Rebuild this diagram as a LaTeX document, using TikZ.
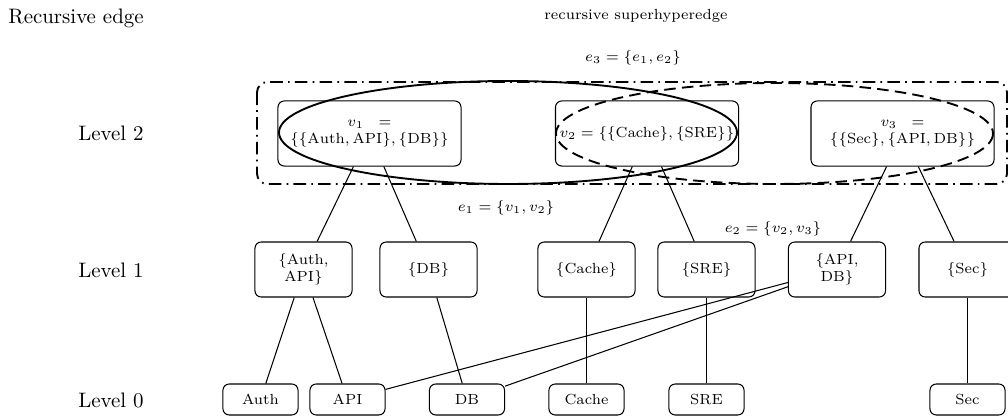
\documentclass[tikz,border=0pt]{standalone}
\usetikzlibrary{shapes.geometric}
\begin{document}
\begin{tikzpicture}[x=0.478pt,y=-0.478pt,
  box/.style={draw,rounded corners=3pt,line width=0.5pt,align=center,
    font=\scriptsize,inner sep=1pt},
  topbox/.style={box,minimum width=87.5pt,minimum height=31.1pt},
  midbox/.style={box,minimum width=46.4pt,minimum height=26.3pt},
  leafbox/.style={box,minimum width=35.9pt,minimum height=14.8pt},
  link/.style={line width=0.5pt},
  hull/.style={line width=0.9pt},
  hulldash/.style={line width=0.9pt,dash pattern=on 5.5pt off 3pt},
  outerhull/.style={line width=0.9pt,rounded corners=5pt,
    dash pattern=on 6pt off 2.5pt on 0.8pt off 2.5pt},
  lvl/.style={font=\normalsize},
  elabel/.style={font=\scriptsize}]
\useasboundingbox (0,0) rectangle (1008,416);

% titles and level labels
\node[anchor=west] (title) at (1,18) {Recursive edge};
\node[elabel] (rsh) at (636,16) {recursive superhyperedge};
\node[elabel] (e3lab) at (633,58) {$e_3=\{e_1,e_2\}$};
\node[lvl] (lv2) at (111,133.5) {Level 2};
\node[lvl] (lv1) at (111,270) {Level 1};
\node[lvl] (lv0) at (111,400) {Level 0};

% level 2
\node[topbox] (v1) at (369.5,133.5) {$v_1$\hspace{7pt}$=$\\$\{\{\mathrm{Auth},\mathrm{API}\},\{\mathrm{DB}\}\}$};
\node[topbox] (v2) at (647,133.5) {$v_2=\{\{\mathrm{Cache}\},\{\mathrm{SRE}\}\}$};
\node[topbox] (v3) at (902.5,133.5) {$v_3$\hspace{7pt}$=$\\$\{\{\mathrm{Sec}\},\{\mathrm{API},\mathrm{DB}\}\}$};

% level 1
\node[midbox] (authapi) at (303.5,269.5) {\{Auth,\\API\}};
\node[midbox] (db1) at (428.5,269.5) {\{DB\}};
\node[midbox] (cache1) at (586.5,269.5) {\{Cache\}};
\node[midbox] (sre1) at (706.5,269.5) {\{SRE\}};
\node[midbox] (apidb) at (837,269.5) {\{API,\\DB\}};
\node[midbox] (sec1) at (967.5,269.5) {\{Sec\}};

% level 0
\node[leafbox] (auth) at (260.5,399.5) {Auth};
\node[leafbox] (api) at (347.5,399.5) {API};
\node[leafbox] (db) at (467,399.5) {DB};
\node[leafbox] (cache) at (586.5,399.5) {Cache};
\node[leafbox] (sre) at (706.5,399.5) {SRE};
\node[leafbox] (sec) at (967.5,399.5) {Sec};

% connectors
\draw[link] (v1) -- (authapi);
\draw[link] (v1) -- (db1);
\draw[link] (v2) -- (cache1);
\draw[link] (v2) -- (sre1);
\draw[link] (v3) -- (apidb);
\draw[link] (v3) -- (sec1);
\draw[link] (authapi) -- (auth);
\draw[link] (authapi) -- (api);
\draw[link] (db1) -- (db);
\draw[link] (cache1) -- (cache);
\draw[link] (sre1) -- (sre);
\draw[link] (sec1) -- (sec);
\draw[link] (apidb) -- (api);
\draw[link] (apidb) -- (db);

% hyperedges
\draw[outerhull] (257,82) rectangle (1007,184);
\draw[hull] (508,132.5) ellipse [x radius=229, y radius=51.5];
\draw[hulldash] (774.5,133.5) ellipse [x radius=218.5, y radius=50.5];
\node[elabel] (e1lab) at (506,208) {$e_1=\{v_1,v_2\}$};
\node[elabel] (e2lab) at (773,229) {$e_2=\{v_2,v_3\}$};
\end{tikzpicture}
\end{document}
